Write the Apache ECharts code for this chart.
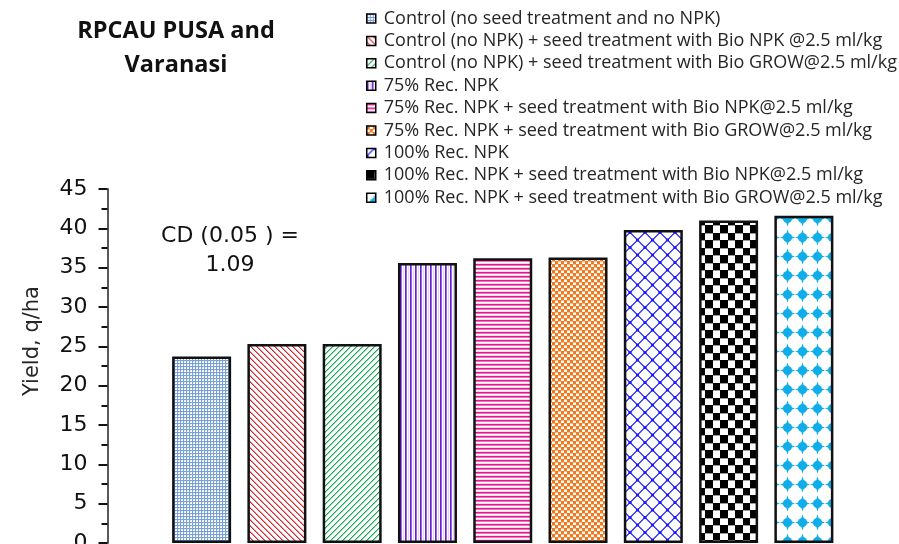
<!DOCTYPE html>
<html>
<head>
<meta charset="utf-8">
<script src="https://cdn.jsdelivr.net/npm/echarts@6/dist/echarts.min.js"></script>
<style>
  html, body { margin: 0; padding: 0; background: #fff; }
  #chart { width: 899px; height: 544px; }
</style>
</head>
<body>
<div id="chart"></div>
<script>
// Treatments and grain yield (q/ha)
const treatments = [
  'Control (no seed treatment and no NPK)',
  'Control (no NPK) + seed treatment with Bio NPK @2.5 ml/kg',
  'Control (no NPK) + seed treatment with Bio GROW@2.5 ml/kg',
  '75% Rec. NPK',
  '75% Rec. NPK + seed treatment with Bio NPK@2.5 ml/kg',
  '75% Rec. NPK + seed treatment with Bio GROW@2.5 ml/kg',
  '100% Rec. NPK',
  '100% Rec. NPK + seed treatment with Bio NPK@2.5 ml/kg',
  '100% Rec. NPK + seed treatment with Bio GROW@2.5 ml/kg'
];
const yieldValues = [23.7, 25.3, 25.3, 35.6, 36.2, 36.3, 39.8, 41.0, 41.6];
const yTicks = [0, 5, 10, 15, 20, 25, 30, 35, 40, 45];
const titleLines = ['RPCAU PUSA and', 'Varanasi'];
const cdLines = ['CD (0.05 ) =', '1.09'];
const yAxisTitle = 'Yield, q/ha';

// ---- fill patterns ----
function tile(w, h, draw) {
  const c = document.createElement('canvas');
  c.width = w; c.height = h;
  const g = c.getContext('2d');
  g.fillStyle = '#fff';
  g.fillRect(0, 0, w, h);
  draw(g, w, h);
  return c;
}
function px(g, x, y, col) { g.fillStyle = col; g.fillRect(x, y, 1, 1); }

const patterns = [
  // small blue grid
  tile(3, 3, g => {
    g.fillStyle = '#7aa0d8'; g.fillRect(0, 0, 3, 1); g.fillRect(0, 0, 1, 3);
    px(g, 1, 1, '#dce7f6');
  }),
  // red downward diagonal
  tile(6, 6, g => {
    for (let y = 0; y < 6; y++) {
      px(g, y % 6, y, '#d9232b');
      px(g, (y + 1) % 6, y, '#f08d90');
    }
  }),
  // green upward diagonal
  tile(6, 6, g => {
    for (let y = 0; y < 6; y++) {
      px(g, (6 - y) % 6, y, '#10b050');
      px(g, (7 - y) % 6, y, '#8ad8a8');
    }
  }),
  // purple vertical stripes
  tile(5, 1, g => {
    px(g, 0, 0, '#6a1ed2'); px(g, 1, 0, '#9a66e4'); px(g, 3, 0, '#e4d6f7');
  }),
  // magenta horizontal stripes
  tile(1, 4, g => {
    px(g, 0, 0, '#e2168f'); px(g, 0, 1, '#ef74bd'); px(g, 0, 3, '#fad6eb');
  }),
  // orange small checkerboard
  tile(6, 6, g => {
    g.fillStyle = '#ee7a22';
    g.fillRect(0, 0, 3, 3); g.fillRect(3, 3, 3, 3);
    g.fillStyle = '#f6b987';
    g.fillRect(0, 3, 3, 1); g.fillRect(3, 0, 3, 1);
  }),
  // blue trellis
  tile(15, 15, g => {
    g.strokeStyle = '#1a1aff'; g.lineWidth = 1.1;
    g.beginPath();
    g.moveTo(0, 7.5); g.lineTo(7.5, 0); g.lineTo(15, 7.5); g.lineTo(7.5, 15); g.closePath();
    g.stroke();
    g.fillStyle = '#1a1aff';
    [[0, 7.5], [15, 7.5], [7.5, 0], [7.5, 15]].forEach(([x, y]) => {
      g.beginPath(); g.arc(x, y, 1.6, 0, Math.PI * 2); g.fill();
    });
  }),
  // black checkerboard
  tile(15, 15, g => {
    g.fillStyle = '#000';
    g.fillRect(0, 0, 8, 8); g.fillRect(8, 8, 7, 7);
    g.fillStyle = '#9a9a9a';
    g.fillRect(8, 0, 7, 1); g.fillRect(0, 8, 8, 1);
  }),
  // cyan stars
  tile(15, 19, g => {
    g.fillStyle = '#10aee9';
    const cx = 7.5, cy = 9.5;
    g.beginPath(); g.arc(cx, cy, 4.6, 0, Math.PI * 2); g.fill();
    g.beginPath();
    g.moveTo(cx, cy - 8); g.lineTo(cx + 2.6, cy); g.lineTo(cx, cy + 8); g.lineTo(cx - 2.6, cy); g.closePath(); g.fill();
    g.beginPath();
    g.moveTo(cx - 7.5, cy); g.lineTo(cx, cy + 2.6); g.lineTo(cx + 7.5, cy); g.lineTo(cx, cy - 2.6); g.closePath(); g.fill();
  })
];

const series = treatments.map((name, i) => ({
  name,
  type: 'bar',
  barWidth: 59,
  barGap: '27.6%',
  data: [yieldValues[i]],
  itemStyle: {
    color: { image: patterns[i], repeat: 'repeat' },
    borderColor: '#111',
    borderWidth: 2.5
  },
  emphasis: { disabled: true }
}));

const chart = echarts.init(document.getElementById('chart'), null, { renderer: 'canvas' });
chart.setOption({
  animation: false,
  backgroundColor: '#fff',
  grid: { left: 107.5, right: 1, top: 189, bottom: 1, containLabel: false, outerBoundsMode: 'none' },
  legend: {
    orient: 'vertical',
    left: 366,
    top: 9.5,
    padding: 0,
    icon: 'rect',
    itemWidth: 9,
    itemHeight: 9,
    itemGap: 4.4,
    selectedMode: false,
    itemStyle: { borderColor: '#000', borderWidth: 1.5 },
    textStyle: { fontFamily: 'Open Sans', fontSize: 18, color: '#262626', lineHeight: 18, padding: [0, 0, 0, 3] },
    data: treatments
  },
  xAxis: {
    type: 'category',
    data: [''],
    show: false
  },
  yAxis: {
    type: 'value',
    min: yTicks[0],
    max: yTicks[yTicks.length - 1],
    interval: 5,
    axisLine: { show: true, lineStyle: { color: '#595959', width: 2 } },
    axisTick: { show: true, length: 9, lineStyle: { color: '#111', width: 2 } },
    minorTick: { show: true, splitNumber: 2, length: 6, lineStyle: { color: '#111', width: 2 } },
    splitLine: { show: false },
    axisLabel: { margin: 20, fontFamily: 'DejaVu Sans', fontSize: 22, color: '#111' }
  },
  graphic: [
    {
      type: 'text',
      style: {
        text: titleLines.join('\n'), x: 176, y: 14, align: 'center', verticalAlign: 'top',
        font: 'bold 23.5px "Open Sans"', lineHeight: 34, fill: '#111'
      }
    },
    {
      type: 'text',
      style: {
        text: cdLines.join('\n'), x: 230, y: 221.5, align: 'center', verticalAlign: 'top',
        font: '22px "DejaVu Sans"', lineHeight: 29, fill: '#111'
      }
    },
    {
      type: 'text',
      x: 33, y: 341, rotation: Math.PI / 2,
      style: {
        text: yAxisTitle, x: 0, y: 0, align: 'center', verticalAlign: 'middle',
        font: '21px "DejaVu Sans"', fill: '#262626'
      }
    }
  ],
  series
});
</script>
</body>
</html>
